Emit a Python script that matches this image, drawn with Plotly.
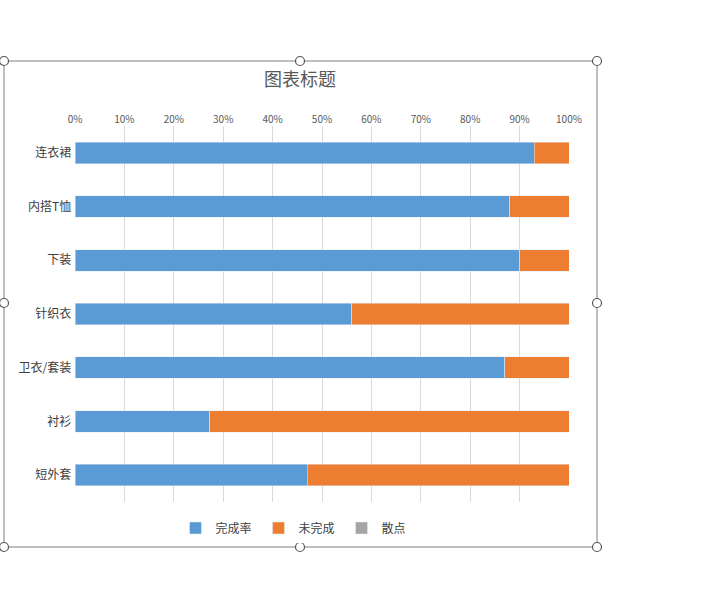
import plotly.graph_objects as go

categories = ["连衣裙", "内搭T恤", "下装", "针织衣", "卫衣/套装", "衬衫", "短外套"]
done = [0.93, 0.88, 0.90, 0.56, 0.87, 0.273, 0.47]
undone = [round(1 - v, 3) for v in done]
tickvals = [i / 10 for i in range(11)]
ticktext = [f"{i*10}%" for i in range(11)]

W, H = 721, 616
L, R, T, B = 75, 569, 126, 502
font = "Noto Sans CJK SC"

fig = go.Figure()
fig.add_bar(y=categories, x=done, orientation="h", name="完成率", marker_color="#5B9BD5", width=0.4)
fig.add_bar(y=categories, x=undone, orientation="h", name="未完成", marker_color="#ED7D31", width=0.4)
fig.add_bar(y=[categories[0]], x=[None], orientation="h", name="散点", marker_color="#A5A5A5")

def px(x): return (x - L) / (R - L)
def py(y): return (B - y) / (B - T)

shapes = [dict(type="rect", xref="paper", yref="paper", x0=px(4), x1=px(597), y0=py(547), y1=py(61),
               line=dict(color="#7f7f7f", width=1))]
for hx in (4, 300, 597):
    for hy in (61, 303, 547):
        if hx == 300 and hy == 303:
            continue
        shapes.append(dict(type="circle", xref="paper", yref="paper", x0=px(hx-4.5), x1=px(hx+4.5),
                           y0=py(hy+4.5), y1=py(hy-4.5), fillcolor="white", line=dict(color="#555", width=1.2)))

fig.update_layout(
    width=W, height=H, barmode="stack", plot_bgcolor="white", paper_bgcolor="white",
    margin=dict(l=L, r=W - R, t=T, b=H - B, autoexpand=False),
    font=dict(family=font, size=12, color="#404040"),
    title=dict(text="图表标题", x=px(300), xref="paper", y=1 - 80 / H, yanchor="middle", xanchor="center",
               font=dict(size=18, color="#595959")),
    xaxis=dict(side="top", range=[0, 1], tickvals=tickvals, ticktext=ticktext, showgrid=True, automargin=False,
               gridcolor="#d9d9d9", zeroline=False, tickfont=dict(size=10, color="#595959"), ticks=""),
    yaxis=dict(autorange="reversed", showgrid=False, showline=False, ticks="", ticksuffix=" ", automargin=False,
               tickfont=dict(size=12, color="#404040")),
    legend=dict(orientation="h", x=px(300), xanchor="center", y=py(528), yanchor="middle",
                traceorder="normal", font=dict(size=12, color="#404040"),
                itemwidth=30, entrywidth=38),
    shapes=shapes, bargap=0.6,
)
fig.write_html("out.html", post_script="document.body.style.margin='0';",
               config={"displayModeBar": False})
